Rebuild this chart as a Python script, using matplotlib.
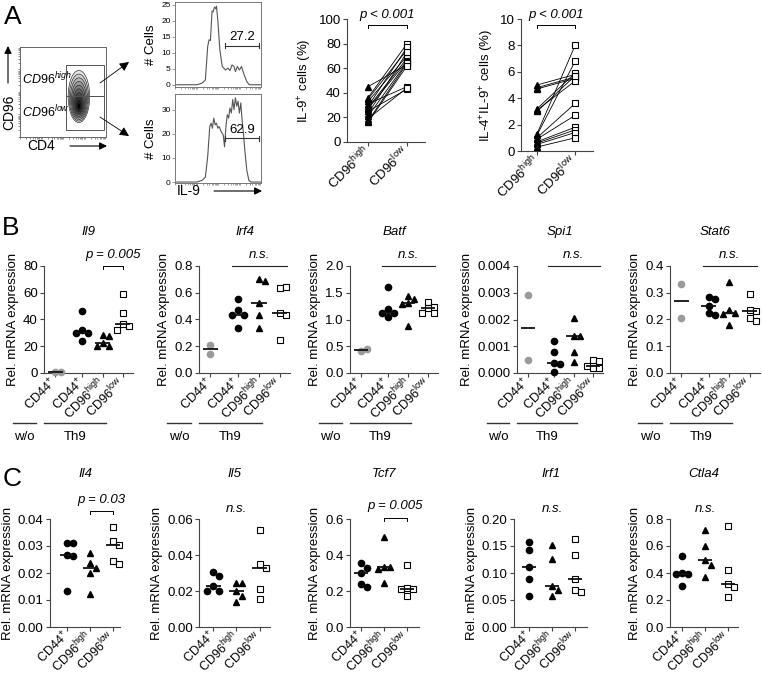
import numpy as np
import matplotlib
matplotlib.use("Agg")
import matplotlib.pyplot as plt
from matplotlib.patches import Ellipse, Rectangle
from matplotlib.transforms import blended_transform_factory

plt.rcParams['font.family'] = ['Liberation Sans', 'DejaVu Sans']
plt.rcParams['mathtext.fontset'] = 'custom'
plt.rcParams['mathtext.rm'] = 'Liberation Sans'
plt.rcParams['mathtext.it'] = 'Liberation Sans:italic'
plt.rcParams['font.size'] = 9.5
plt.rcParams['axes.linewidth'] = 0.8

SPINE = '#444444'
GRAY = '#9a9a9a'

# ---------------- data ----------------
# A: IL-9 histograms (channel 0-100 vs # cells)
hist_hi_x = [2, 25.5, 31.4, 35.3, 38, 39.6, 41.2, 43.1, 44.3, 45.9, 47.5, 48.2, 49.8, 52.2,
             54.9, 58.8, 61.6, 63.9, 66.3, 68.6, 70.2, 72.5, 74.9, 77.3, 80.4, 83.5, 86.3, 100]
hist_hi_y = [0, 0, 0.5, 1.5, 11.9, 14, 13.8, 23, 22.7, 24.2, 23.7, 24.5, 20, 10.8,
             5.7, 4.6, 5.2, 4.4, 6.2, 5.7, 4.1, 5.7, 4.6, 5.7, 3.1, 1, 0, 0]
hist_lo_x = [2, 25.5, 31.4, 35.3, 38, 40.4, 42, 43.5, 45.1, 46.7, 48.2, 49.8, 51.4, 53.7,
             56.1, 57.6, 59.2, 60.8, 62.4, 63.9, 65.5, 67.1, 68.6, 70.2, 71.8, 73.3, 74.9,
             76.5, 78, 79.6, 81.2, 83.5, 85.9, 88.2, 100]
hist_lo_y = [0, 0, 0.7, 2, 10.5, 23, 24.4, 22.3, 26.5, 23.7, 24.4, 22.3, 23, 20.9,
             19.5, 14.6, 23, 27.9, 26.5, 30.7, 28.6, 34.2, 30, 34.9, 31.4, 33.5, 28.6,
             32.8, 25.8, 20.2, 13.2, 4.9, 0.7, 0, 0]
gate_hi = '27.2'
gate_lo = '62.9'

# A: paired donors
il9_high = [45, 36, 35, 33, 31, 29, 28, 27, 25, 23, 21, 19, 17, 16]
il9_low = [63, 80, 75, 70, 45, 77, 68, 66, 43, 73, 65, 44, 64, 62]
il4il9_high = [5.0, 4.8, 4.7, 3.2, 3.1, 3.0, 1.3, 1.2, 1.0, 0.9, 0.7, 0.6, 0.5, 0.3]
il4il9_low = [5.8, 5.6, 5.5, 5.9, 5.3, 5.7, 8.0, 6.8, 3.6, 2.7, 1.8, 1.6, 1.4, 1.0]

# B: w/o CD44+, Th9 CD44+, CD96high, CD96low
b_genes = ['Il9', 'Irf4', 'Batf', 'Spi1', 'Stat6']
b_labels = [r'CD44$^{\mathrm{+}}$', r'CD44$^{\mathrm{+}}$', r'CD96$^{\mathrm{high}}$', r'CD96$^{\mathrm{low}}$']
il9_b = [[0.4, 0.6], [46.4, 31.8, 30, 30, 23.6], [28.6, 27.3, 22.8, 20.4, 20.4], [59, 44.7, 36.5, 35.5, 32.3]]
irf4_b = [[0.21, 0.145], [0.55, 0.47, 0.43, 0.43, 0.34], [0.70, 0.685, 0.52, 0.435, 0.336], [0.634, 0.64, 0.452, 0.43, 0.248]]
batf_b = [[0.42, 0.45], [1.60, 1.19, 1.13, 1.12, 1.04], [1.44, 1.38, 1.30, 1.29, 0.88], [1.33, 1.24, 1.22, 1.13, 1.12]]
spi1_b = [[0.0029, 0.0005], [0.00118, 0.0008, 0.00036, 0.00035, 0.00003], [0.00205, 0.0014, 0.00139, 0.00077, 0.00041], [0.00047, 0.00045, 0.00028, 0.0002, 0.00019]]
stat6_b = [[0.332, 0.207], [0.285, 0.275, 0.25, 0.225, 0.215], [0.34, 0.236, 0.225, 0.22, 0.178], [0.295, 0.237, 0.23, 0.205, 0.196]]
b_data = [il9_b, irf4_b, batf_b, spi1_b, stat6_b]
b_ymax = [80, 0.8, 2.0, 0.004, 0.4]
b_ystep = [20, 0.2, 0.5, 0.001, 0.1]
b_fmt = ['%d', '%.1f', '%.1f', '%.3f', '%.1f']
b_stats = ['p = 0.005', 'n.s.', 'n.s.', 'n.s.', 'n.s.']

# C: CD44+, CD96high, CD96low
c_genes = ['Il4', 'Il5', 'Tcf7', 'Irf1', 'Ctla4']
c_labels = [r'CD44$^{\mathrm{+}}$', r'CD96$^{\mathrm{high}}$', r'CD96$^{\mathrm{low}}$']
il4_c = [[0.031, 0.031, 0.0268, 0.0262, 0.0135], [0.0275, 0.0237, 0.022, 0.0201, 0.0122], [0.037, 0.032, 0.0302, 0.0243, 0.0234]]
il5_c = [[0.0303, 0.0285, 0.0226, 0.0198, 0.0198], [0.0244, 0.0244, 0.0198, 0.0174, 0.0137], [0.0537, 0.035, 0.033, 0.0213, 0.0157]]
tcf7_c = [[0.355, 0.33, 0.30, 0.24, 0.22], [0.50, 0.335, 0.333, 0.32, 0.246], [0.346, 0.218, 0.213, 0.21, 0.174]]
irf1_c = [[0.157, 0.142, 0.111, 0.089, 0.057], [0.151, 0.126, 0.0765, 0.069, 0.058], [0.163, 0.134, 0.089, 0.069, 0.064]]
ctla4_c = [[0.525, 0.40, 0.395, 0.39, 0.305], [0.72, 0.60, 0.50, 0.46, 0.37], [0.75, 0.42, 0.32, 0.30, 0.22]]
c_data = [il4_c, il5_c, tcf7_c, irf1_c, ctla4_c]
c_ymax = [0.04, 0.06, 0.6, 0.2, 0.8]
c_ystep = [0.01, 0.02, 0.2, 0.05, 0.2]
c_fmt = ['%.2f', '%.2f', '%.1f', '%.2f', '%.1f']
c_stats = ['p = 0.03', 'n.s.', 'p = 0.005', 'n.s.', 'n.s.']

# ---------------- layout ----------------
W, H = 762, 674
fig = plt.figure(figsize=(W / 100, H / 100), dpi=100)
fig.patch.set_facecolor('white')


def px_axes(l, t, r, b):
    return fig.add_axes([l / W, 1 - b / H, (r - l) / W, (b - t) / H])


def style(ax, size=9.5):
    for s in ('top', 'right'):
        ax.spines[s].set_visible(False)
    for s in ('left', 'bottom'):
        ax.spines[s].set_color(SPINE)
        ax.spines[s].set_linewidth(0.8)
    ax.tick_params(direction='out', length=3, width=0.8, color=SPINE, labelsize=size, pad=1.5)
    ax.tick_params(axis='x', pad=2)


def swarm(ax, x0, vals, d=6.0):
    tr = ax.transData
    placed, xs = [], []
    for v in vals:
        xp0, yp = tr.transform((x0, v))
        for k in (0, 1, -1, 2, -2, 3, -3):
            xp = xp0 + k * d
            if all((xp - a) ** 2 + (yp - b) ** 2 >= (d * 0.95) ** 2 for a, b in placed):
                break
        placed.append((xp, yp))
        xs.append(tr.inverted().transform((xp, yp))[0])
    return xs


MK = {
    'gray': dict(marker='o', ms=4.5, color=GRAY, mec=GRAY, ls='none'),
    'dot': dict(marker='o', ms=4.5, color='k', ls='none'),
    'tri': dict(marker='^', ms=5, color='k', ls='none'),
    'sq': dict(marker='s', ms=4.5, mfc='white', mec='k', mew=0.8, ls='none'),
}


def dot_panel(ax, groups, pos, kinds, hw):
    for vals, x0, kind in zip(groups, pos, kinds):
        ax.plot(swarm(ax, x0, vals), vals, clip_on=False, zorder=3, **MK[kind])
        ax.hlines(np.median(vals), x0 - hw, x0 + hw, color='#111111', lw=1.3, zorder=4)


def yticks(ax, ymax, step, fmt):
    t = np.arange(0, ymax + step / 2, step)
    ax.set_ylim(0, ymax)
    ax.set_yticks(t)
    ax.set_yticklabels([fmt % v for v in t])


def xlabels(ax, pos, labels, size=9.2):
    ax.set_xticks(pos)
    ax.set_xticklabels(labels, rotation=45, ha='right', va='center', rotation_mode='anchor', fontsize=size)


# ---- A: flow plot
ax = px_axes(20, 47, 106, 137)
ax.set_xlim(0, 100)
ax.set_ylim(0, 100)
for s in ax.spines.values():
    s.set_color('#666666')
    s.set_linewidth(0.7)
log_ticks = [d * 25 + 25 * np.log10(k) for d in range(4) for k in range(1, 10)]
ax.set_xticks([])
ax.set_yticks([])
ax.set_xticks(log_ticks, minor=True)
ax.set_yticks(log_ticks, minor=True)
ax.tick_params(which='minor', length=1.5, width=0.5, color='#666666', direction='out')
levels = [1.0, 0.9, 0.8, 0.7, 0.6, 0.5, 0.4, 0.3, 0.2, 0.12]
shades = ['#e6e6e6', '#cfcfcf', '#b5b5b5', '#9a9a9a', '#808080', '#666666', '#4a4a4a', '#303030', '#1a1a1a', '#000000']
for s, c in zip(levels, shades):
    ax.add_patch(Ellipse((68.5, 45 - 12 * (1 - s)), 25 * s, 58 * s, fc=c, ec='#222222', lw=0.45))
ax.add_patch(Rectangle((53.5, 45.6), 44.2, 34.4, fill=False, ec='#555555', lw=0.7))
ax.add_patch(Rectangle((53.5, 7.8), 44.2, 37.8, fill=False, ec='#555555', lw=0.7))
ax.text(2, 64, r'$\mathit{CD96}^{\mathit{high}}$', fontsize=9, va='center')
ax.text(2, 28, r'$\mathit{CD96}^{\mathit{low}}$', fontsize=9, va='center')

# ---- A: histograms
for (t, b, hx, hy, ylim, step, gate_y, lab) in [
        (2, 87, hist_hi_x, hist_hi_y, (-0.7, 25.8), 5, 12.2, gate_hi),
        (94, 183, hist_lo_x, hist_lo_y, (-0.4, 36.5), 10, 18.1, gate_lo)]:
    ax = px_axes(175, t, 261, b)
    ax.plot(hx, hy, color='#555555', lw=0.8)
    ax.set_xlim(0, 100)
    ax.set_ylim(*ylim)
    for s in ax.spines.values():
        s.set_color('#777777')
        s.set_linewidth(0.7)
    ax.set_yticks(np.arange(0, ylim[1], step))
    ax.set_xticks([])
    ax.set_xticks(log_ticks, minor=True)
    ax.tick_params(axis='y', length=2, width=0.5, labelsize=6, pad=1, color='#777777')
    ax.tick_params(axis='x', which='minor', length=1.5, width=0.5, color='#777777')
    ax.set_ylabel('# Cells', fontsize=9.5, labelpad=3)
    dy = (ylim[1] - ylim[0]) * 0.03
    ax.plot([58, 98], [gate_y, gate_y], color='#333333', lw=0.8)
    ax.plot([58, 58], [gate_y - dy, gate_y + dy], color='#333333', lw=0.8)
    ax.plot([98, 98], [gate_y - dy, gate_y + dy], color='#333333', lw=0.8)
    ax.text(78, gate_y + dy, lab, ha='center', va='bottom', fontsize=9.5)

# ---- A: paired plots
for (l, t, r, b, hi, lo, ymax, step, ylab, xl) in [
        (347, 19, 425, 142, il9_high, il9_low, 100, 20, r'IL-9$^{\mathrm{+}}$ cells (%)', (-0.54, 1.46)),
        (521, 19, 593, 151, il4il9_high, il4il9_low, 10, 2,
         r'IL-4$^{\mathrm{+}}$IL-9$^{\mathrm{+}}$ cells (%)', (-0.42, 1.47))]:
    ax = px_axes(l, t, r, b)
    style(ax)
    ax.set_xlim(*xl)
    yticks(ax, ymax, step, '%d')
    for h, v in zip(hi, lo):
        ax.plot([0, 1], [h, v], color='k', lw=0.6, zorder=2)
    ax.plot(np.zeros(len(hi)), hi, clip_on=False, zorder=3, **MK['tri'])
    ax.plot(np.ones(len(lo)), lo, clip_on=False, zorder=3, **MK['sq'])
    xlabels(ax, [0, 1], [r'CD96$^{\mathrm{high}}$', r'CD96$^{\mathrm{low}}$'], size=9.5)
    ax.set_ylabel(ylab, fontsize=9.5, labelpad=3)
    ybar = 1 - (6 / (b - t))
    tick = 3 / (b - t)
    tr = blended_transform_factory(ax.transData, ax.transAxes)
    ax.plot([0, 0, 1, 1], [ybar - tick, ybar, ybar, ybar - tick], color='k', lw=0.7,
            transform=tr, clip_on=False)
    ax.text(0.5, 1 + 4 / (b - t), 'p < 0.001', style='italic', ha='center', va='center',
            transform=tr, fontsize=9.5)

# ---- B
b_pos = [0, 1.35, 2.35, 3.35]
b_boxes = [(44, 133), (199, 290), (350, 438), (517, 603), (670, 760)]
for gene, groups, ymax, step, fmt, stat, (l, r) in zip(b_genes, b_data, b_ymax, b_ystep,
                                                       b_fmt, b_stats, b_boxes):
    ax = px_axes(l, 266, r, 373)
    style(ax)
    ax.set_xlim(-0.55, 3.85)
    yticks(ax, ymax, step, fmt)
    xlabels(ax, b_pos, b_labels)
    ax.set_ylabel('Rel. mRNA expression', fontsize=9.5, labelpad=3)
    dot_panel(ax, groups, b_pos, ['gray', 'dot', 'tri', 'sq'], 0.37)
    tr = blended_transform_factory(ax.transData, ax.transAxes)
    ax.text(0.5, 1.318, gene, style='italic', ha='center', va='center', transform=ax.transAxes, fontsize=9.5)
    if stat.startswith('p'):
        ax.plot([2.35, 2.35, 3.35, 3.35], [0.97, 1.0, 1.0, 0.97], color='k', lw=0.7,
                transform=tr, clip_on=False)
        ax.text(2.85, 1.10, stat, style='italic', ha='center', va='center', transform=tr)
    else:
        ax.plot([1.05, 3.7], [1.0, 1.0], color='#222222', lw=0.8, transform=tr, clip_on=False)
        ax.text(2.35, 1.10, stat, style='italic', ha='center', va='center', transform=tr)
    # treatment groups under the labels
    ax.plot([-2.1, -0.95], [-0.467, -0.467], color='#333333', lw=1.0, transform=tr, clip_on=False)
    ax.plot([-0.55, 2.5], [-0.467, -0.467], color='#333333', lw=1.0, transform=tr, clip_on=False)
    ax.text(-1.52, -0.6, 'w/o', ha='center', va='center', transform=tr)
    ax.text(0.97, -0.6, 'Th9', ha='center', va='center', transform=tr)

# ---- C
c_pos = [0, 1, 2]
c_boxes = [(50, 120), (199, 270), (350, 419), (514, 587), (670, 738)]
c_xlim = [(-0.74, 2.3), (-0.6, 2.43), (-0.48, 2.52), (-0.65, 2.52), (-0.52, 2.43)]
c_bar_y = [1.074, None, 1.01, None, None]
c_txt_y = [1.176, 1.09, 1.12, 1.09, 1.09]
for gene, groups, ymax, step, fmt, stat, (l, r), xl, by, ty in zip(
        c_genes, c_data, c_ymax, c_ystep, c_fmt, c_stats, c_boxes, c_xlim, c_bar_y, c_txt_y):
    ax = px_axes(l, 519, r, 627)
    style(ax)
    ax.set_xlim(*xl)
    yticks(ax, ymax, step, fmt)
    xlabels(ax, c_pos, c_labels, size=9)
    ax.set_ylabel('Rel. mRNA expression', fontsize=9.5, labelpad=3)
    dot_panel(ax, groups, c_pos, ['dot', 'tri', 'sq'], 0.32)
    tr = blended_transform_factory(ax.transData, ax.transAxes)
    ax.text(0.5, 1.417, gene, style='italic', ha='center', va='center', transform=ax.transAxes, fontsize=9.5)
    if by is not None:
        ax.plot([1, 1, 2, 2], [by - 0.028, by, by, by - 0.028], color='k', lw=0.7,
                transform=tr, clip_on=False)
        ax.text(1.5, ty, stat, style='italic', ha='center', va='center', transform=tr)
    else:
        ax.text(1, ty, stat, style='italic', ha='center', va='center', transform=tr)

# ---- overlay: panel letters, axis arrows
ov = fig.add_axes([0, 0, 1, 1])
ov.set_xlim(0, W)
ov.set_ylim(H, 0)
ov.axis('off')
ov.patch.set_alpha(0)
for lab, x, y in [('A', 13, 17), ('B', 11, 228), ('C', 12, 479)]:
    ov.text(x, y, lab, fontsize=19, ha='center', va='center')
ov.text(9, 112, 'CD96', rotation=90, ha='center', va='center', fontsize=10)
ov.text(41, 146, 'CD4', ha='center', va='center', fontsize=10)
ov.text(189, 191, 'IL-9', ha='center', va='center', fontsize=10)
arrow = dict(arrowstyle='-|>', color='k', lw=0.8, mutation_scale=11, shrinkA=0, shrinkB=0)
for p0, p1 in [((8, 83), (8, 46)), ((70, 146), (107, 146)), ((214, 191), (262, 191))]:
    ov.annotate('', xy=p1, xytext=p0, arrowprops=arrow)
arrow2 = dict(arrowstyle='-|>', color='k', lw=0.6, mutation_scale=14, shrinkA=0, shrinkB=0)
for p0, p1 in [((100, 83), (129, 62)), ((100, 117), (129, 136))]:
    ov.annotate('', xy=p1, xytext=p0, arrowprops=arrow2)

fig.savefig('out.png', dpi=100)
